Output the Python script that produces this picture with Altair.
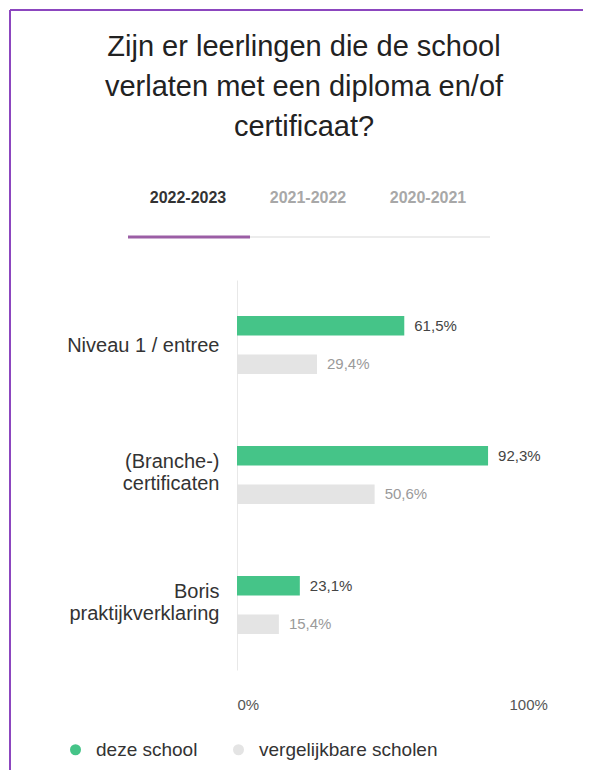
import altair as alt
import pandas as pd

# ---- data ----
categories = ["Niveau 1 / entree", "(Branche-)\ncertificaten", "Boris\npraktijkverklaring"]
series = ["deze school", "vergelijkbare scholen"]
school = [61.5, 92.3, 23.1]
comparable = [29.4, 50.6, 15.4]
tabs = ["2022-2023", "2021-2022", "2020-2021"]
title_lines = ["Zijn er leerlingen die de school", "verlaten met een diploma en/of", "certificaat?"]
x_ticks = [0, 100]

rows = []
for c, a, b in zip(categories, school, comparable):
    rows.append({"category": c, "series": series[0], "value": a})
    rows.append({"category": c, "series": series[1], "value": b})
df = pd.DataFrame(rows)

FONT = "Liberation Sans"
GREEN = "#45c488"
GREY = "#e4e4e4"

base = alt.Chart(df).transform_calculate(
    label="replace(format(datum.value, '.1f'), '.', ',') + '%'"
).encode(
    y=alt.Y(
        "category:N",
        sort=categories,
        scale=alt.Scale(paddingInner=0, paddingOuter=0),
        axis=alt.Axis(
            title=None,
            labelExpr="split(datum.label, '\\n')",
            labelFontSize=20,
            labelColor="#333333",
            labelFont=FONT,
            labelPadding=18,
            labelLineHeight=22,
            labelLimit=300,
            labelOffset={"condition": {"test": "indexof(datum.label, '\\n') >= 0", "value": -13}, "value": 1},
            ticks=False,
            tickSize=0,
            domainColor="#e8e8e8",
            domainWidth=1,
            grid=False,
        ),
    ),
    yOffset=alt.YOffset(
        "series:N",
        sort=series,
        scale=alt.Scale(paddingInner=0.494, paddingOuter=0.935),
    ),
)

bars = base.mark_bar().encode(
    x=alt.X(
        "value:Q",
        scale=alt.Scale(domain=[0, 100], nice=False),
        axis=alt.Axis(
            title=None,
            values=x_ticks,
            labelExpr="datum.value + '%'",
            labelAlign="left",
            labelFontSize=15,
            labelColor="#555555",
            labelFont=FONT,
            labelPadding=27,
            ticks=False,
            tickSize=0,
            domain=False,
            grid=False,
        ),
    ),
    color=alt.Color(
        "series:N",
        scale=alt.Scale(domain=series, range=[GREEN, GREY]),
        legend=alt.Legend(
            title=None,
            orient="none",
            direction="horizontal",
            legendX=-171,
            legendY=460,
            symbolType="circle",
            symbolSize=121,
            symbolStrokeWidth=0,
            labelFontSize=19,
            labelFont=FONT,
            labelColor="#333333",
            labelOffset=11,
            labelLimit=400,
            columnPadding=31,
        ),
    ),
)

value_labels = base.mark_text(
    align="left", baseline="middle", dx=10, fontSize=15, font=FONT
).encode(
    x=alt.X("value:Q"),
    text="label:N",
    color=alt.condition("datum.series == 'deze school'", alt.value("#444444"), alt.value("#9a9a9a")),
)

one = pd.DataFrame({"a": [0]})

# title as text (centred over the chart)
title_text = alt.Chart(one).mark_text(
    text=title_lines, font=FONT, fontSize=29, color="#222222",
    lineHeight=40, align="center", baseline="alphabetic",
).encode(x=alt.value(67), y=alt.value(-224))

# frame lines (decoration)
frame_top = alt.Chart(one).mark_rule(color="#8c46bf", strokeWidth=2).encode(
    x=alt.value(-227), x2=alt.value(346), y=alt.value(-270)
)
frame_left = alt.Chart(one).mark_rule(color="#8c46bf", strokeWidth=2).encode(
    x=alt.value(-227), y=alt.value(-270), y2=alt.value(490)
)

# tab underline
under_grey = alt.Chart(one).mark_rule(color="#ececec", strokeWidth=2).encode(
    x=alt.value(-109), x2=alt.value(253), y=alt.value(-43)
)
under_purple = alt.Chart(one).mark_rule(color="#9b5ea5", strokeWidth=3).encode(
    x=alt.value(-109), x2=alt.value(13), y=alt.value(-43)
)

tab_layers = []
for i, t in enumerate(tabs):
    tab_layers.append(
        alt.Chart(pd.DataFrame({"t": [t]})).mark_text(
            font=FONT, fontSize=16, fontWeight="bold", baseline="middle", align="center",
            color="#333333" if i == 0 else "#a8a8a8",
        ).encode(x=alt.value(-49 + 120 * i), y=alt.value(-82), text="t:N")
    )

chart = alt.layer(
    frame_top, frame_left, under_grey, under_purple, title_text, *tab_layers, bars, value_labels
).properties(
    width=272,
    height=390,
    padding={"left": 229, "top": 272, "right": 75, "bottom": 102},
    autosize=alt.AutoSizeParams(type="none"),
).configure(
    font=FONT, background="white"
).configure_view(stroke=None)

chart.save("out.html", embed_options={"renderer": "svg", "actions": False})
